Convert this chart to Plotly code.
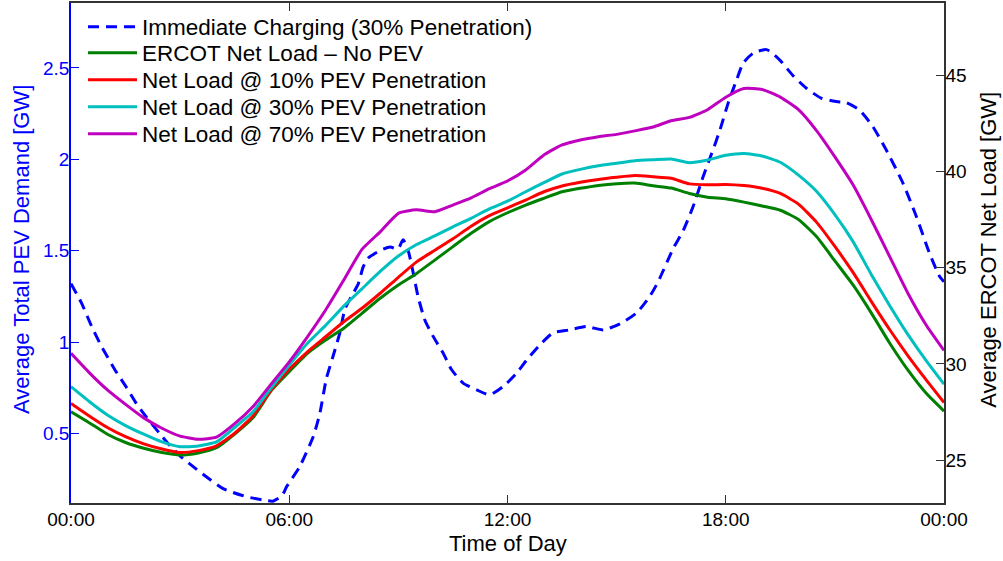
import plotly.graph_objects as go

# ---------------- data ----------------
hours = [i * 0.5 for i in range(49)]

net_no_pev = [27.52, 26.95, 26.35, 25.92, 25.62, 25.40, 25.27, 25.38, 25.65, 26.36,
              27.2, 28.6, 29.6, 30.55, 31.24, 31.85, 32.63, 33.41, 34.10, 34.70,
              35.39, 36.09, 36.78, 37.39, 37.85, 38.25, 38.60, 38.94, 39.12, 39.27,
              39.36, 39.39, 39.25, 39.13, 38.85, 38.66, 38.58, 38.40, 38.20, 37.98,
              37.5, 36.6, 35.35, 34.1, 32.65, 31.1, 29.7, 28.5, 27.55]

net_10 = [27.95, 27.3, 26.7, 26.22, 25.85, 25.58, 25.40, 25.50, 25.75, 26.40,
          27.3, 28.64, 29.72, 30.63, 31.41, 32.19, 32.89, 33.67, 34.5, 35.3,
          35.9, 36.5, 37.15, 37.7, 38.1, 38.51, 38.94, 39.24, 39.43, 39.58,
          39.69, 39.78, 39.72, 39.64, 39.35, 39.3, 39.32, 39.26, 39.12, 38.85,
          38.3, 37.35, 36.1, 34.75, 33.25, 31.8, 30.45, 29.2, 28.0]

net_30 = [28.82, 28.05, 27.35, 26.8, 26.35, 25.95, 25.70, 25.74, 25.95, 26.7,
          27.5, 28.75, 29.94, 31.07, 32.0, 33.0, 33.9, 34.8, 35.6, 36.2,
          36.65, 37.12, 37.56, 38.05, 38.45, 38.94, 39.41, 39.86, 40.10, 40.29,
          40.42, 40.55, 40.6, 40.64, 40.45, 40.59, 40.83, 40.93, 40.8, 40.47,
          39.8, 38.95, 37.75, 36.35, 34.65, 33.05, 31.55, 30.2, 28.95]

net_70 = [30.55, 29.55, 28.65, 27.9, 27.2, 26.66, 26.25, 26.09, 26.2, 26.9,
          27.78, 28.95, 30.11, 31.41, 32.80, 34.36, 35.95, 36.86, 37.82, 38.0,
          37.9, 38.25, 38.62, 39.1, 39.5, 40.07, 40.85, 41.37, 41.63, 41.80,
          41.92, 42.1, 42.3, 42.63, 42.8, 43.2, 43.85, 44.3, 44.25, 43.85,
          43.2, 42.1, 40.75, 39.3, 37.5, 35.6, 33.7, 32.05, 30.7]

pev_hours = [0.0, 0.29, 0.57, 0.84, 1.21, 1.51, 1.79, 2.06, 2.43, 2.70, 3.02, 3.35,
             3.71, 4.17, 4.81, 5.27, 5.55, 5.8, 5.93, 6.29, 6.66, 6.84, 7.02, 7.2,
             7.39, 7.53, 7.71, 7.9, 8.03, 8.17, 8.49, 8.77, 8.99, 9.13, 9.27, 9.41,
             9.54, 9.73, 9.96, 10.23, 10.46, 10.78, 11.15, 11.51, 11.88, 12.25, 12.52,
             12.89, 13.25, 13.71, 14.17, 14.63, 15.09, 15.55, 15.91, 16.14, 16.55,
             16.83, 17.1, 17.38, 17.61, 17.84, 18.07, 18.3, 18.48, 18.75, 19.12,
             19.48, 19.84, 20.21, 20.62, 21.04, 21.31, 21.67, 22.04, 22.41, 22.87,
             23.24, 23.6, 23.88, 24.0]
pev_demand = [1.32, 1.213, 1.085, 0.976, 0.848, 0.757, 0.666, 0.593, 0.502, 0.438, 0.374, 0.32,
              0.265, 0.20, 0.155, 0.137, 0.13, 0.16, 0.21, 0.32, 0.484, 0.61, 0.80, 0.92,
              1.05, 1.18, 1.25, 1.32, 1.41, 1.46, 1.50, 1.52, 1.51, 1.56, 1.50, 1.377,
              1.25, 1.12, 1.03, 0.94, 0.85, 0.776, 0.739, 0.712, 0.757, 0.83, 0.90,
              0.985, 1.05, 1.067, 1.085, 1.067, 1.10, 1.16, 1.25, 1.33, 1.51,
              1.61, 1.74, 1.906, 2.03, 2.16, 2.31, 2.435, 2.526, 2.58, 2.60,
              2.544, 2.46, 2.39, 2.335, 2.316, 2.31, 2.27, 2.18, 2.052, 1.87,
              1.687, 1.487, 1.359, 1.33]

x_tickvals = [0, 6, 12, 18, 24]
x_ticktext = ["00:00", "06:00", "12:00", "18:00", "00:00"]
left_ticks = [0.5, 1, 1.5, 2, 2.5]
left_ticktext = ["0.5", "1", "1.5", "2", "2.5"]
right_ticks = [25, 30, 35, 40, 45]

series_names = ["Immediate Charging (30% Penetration)",
                "ERCOT Net Load \u2013 No PEV",
                "Net Load @ 10% PEV Penetration",
                "Net Load @ 30% PEV Penetration",
                "Net Load @ 70% PEV Penetration"]

# ---------------- figure ----------------
FONT = "Liberation Sans, Arial, Helvetica, sans-serif"
fig = go.Figure()

fig.add_trace(go.Scatter(x=pev_hours, y=pev_demand, mode="lines", name=series_names[0],
                         line=dict(color="#0000FF", width=3, dash="11px,7px", shape="spline", smoothing=0.6),
                         yaxis="y", legend="legend"))
colors = ["#008000", "#FF0000", "#00BFBF", "#BF00BF"]
datasets = [net_no_pev, net_10, net_30, net_70]
legends = ["legend2", "legend3", "legend4", "legend5"]
for name, col, data, lg in zip(series_names[1:], colors, datasets, legends):
    fig.add_trace(go.Scatter(x=hours, y=data, mode="lines", name=name,
                             line=dict(color=col, width=3, shape="spline", smoothing=0.5),
                             yaxis="y2", legend=lg))

# plot area in pixels: left 71, right 944.3, top 3, bottom 503
L, R, T, B = 71, 944.3, 3, 503
W, H = R - L, B - T
def px_x(px):
    return (px - L) / W
def px_y(py):
    return 1 - (py - T) / H

legend_rows = [27, 53, 80, 107, 134]
legend_common = dict(xanchor="left", yanchor="middle", bgcolor="rgba(255,255,255,0)",
                     borderwidth=0, font=dict(family=FONT, size=22.5, color="black"),
                     itemwidth=49)
legend_layout = {}
for i, row in enumerate(legend_rows):
    key = "legend" if i == 0 else "legend%d" % (i + 1)
    legend_layout[key] = dict(x=px_x(83), y=px_y(row), **legend_common)

fig.update_layout(
    width=1003, height=561,
    margin=dict(l=L, r=1003 - R, t=T, b=561 - B, autoexpand=False),
    paper_bgcolor="white", plot_bgcolor="white",
    font=dict(family=FONT, size=19, color="black"),
    showlegend=True,
    xaxis=dict(range=[0, 24], tickvals=x_tickvals, ticktext=x_ticktext,
               ticks="inside", ticklen=8, tickcolor="#333333", tickwidth=1,
               showline=True, linecolor="#333333", linewidth=1.5, mirror="ticks",
               showgrid=False, zeroline=False, automargin=False,
               ticklabelstandoff=-2,
               tickfont=dict(size=19, color="black")),
    yaxis=dict(range=[0.12, 2.855], tickvals=left_ticks, ticktext=left_ticktext,
               ticks="inside", ticklen=8, tickcolor="#0000FF", tickwidth=1,
               showline=True, linecolor="#0000FF", linewidth=1.5,
               showgrid=False, zeroline=False, automargin=False,
               ticklabelstandoff=-4,
               tickfont=dict(size=19, color="#0000FF")),
    yaxis2=dict(range=[22.78, 48.74], tickvals=right_ticks, overlaying="y", side="right",
                ticks="inside", ticklen=8, tickcolor="#333333", tickwidth=1,
                showline=True, linecolor="#333333", linewidth=1.5,
                showgrid=False, zeroline=False, automargin=False,
                ticklabelstandoff=-4,
                tickfont=dict(size=19, color="black")),
    annotations=[
        dict(text="Time of Day", xref="paper", yref="paper", x=px_x(508), y=px_y(543),
             xanchor="center", yanchor="middle", showarrow=False,
             font=dict(family=FONT, size=22, color="black")),
        dict(text="Average Total PEV Demand [GW]", xref="paper", yref="paper",
             x=px_x(21), y=px_y(250), xanchor="center", yanchor="middle", textangle=-90,
             showarrow=False, font=dict(family=FONT, size=22, color="#0000FF")),
        dict(text="Average ERCOT Net Load [GW]", xref="paper", yref="paper",
             x=px_x(988), y=px_y(250), xanchor="center", yanchor="middle", textangle=-90,
             showarrow=False, font=dict(family=FONT, size=22, color="black")),
    ],
    **legend_layout,
)

fig.write_html("out.html",
               config={"displayModeBar": False},
               post_script="document.body.style.margin='0';document.body.style.overflow='hidden';")
